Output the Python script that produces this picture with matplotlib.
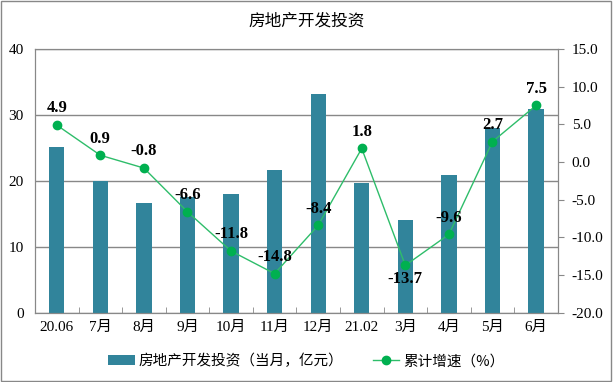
import numpy as np
import matplotlib.pyplot as plt

plt.rcParams['font.family'] = ['Liberation Serif', 'Noto Sans CJK SC']

months = ['20.06', '7月', '8月', '9月', '10月', '11月', '12月', '21.02', '3月', '4月', '5月', '6月']
invest = [25.2, 20.0, 16.7, 17.5, 18.0, 21.7, 33.2, 19.7, 14.1, 20.9, 28.0, 30.9]
growth = [4.9, 0.9, -0.8, -6.6, -11.8, -14.8, -8.4, 1.8, -13.7, -9.6, 2.7, 7.5]
# label below the point for these
below = [8]

fig = plt.figure(figsize=(6.13, 3.82), dpi=100)
ax = fig.add_axes([0.057, 0.181, 0.853, 0.691])
x = np.arange(len(months))

ax.bar(x, invest, width=0.35, color='#31849B', label='房地产开发投资（当月，亿元）', zorder=2)
ax.set_ylim(0, 40)
ax.set_yticks([0, 10, 20, 30, 40])
ax.set_xlim(-0.5, len(months) - 0.5)
ax.set_xticks(x)
ax.set_xticklabels(months, fontsize=11)
ax.set_xticks(np.arange(-0.5, len(months), 1), minor=True)
ax.tick_params(axis='x', which='major', length=0, pad=6)
ax.tick_params(axis='x', which='minor', direction='in', length=4, color='#888888')
ax.tick_params(axis='y', length=0, labelsize=11, pad=8)
ax.grid(axis='y', color='#888888', linewidth=1, zorder=0)
for s in ax.spines.values():
    s.set_color('#888888')

ax2 = ax.twinx()
ln, = ax2.plot(x, growth, color='#2EBD6A', linewidth=1, marker='o', markersize=6,
               markerfacecolor='#00B050', markeredgecolor='#00B050', label='累计增速（%）')
ax2.set_ylim(-20, 15)
ax2.set_yticks(np.arange(-20, 16, 5))
ax2.set_yticklabels(['%.1f' % v for v in np.arange(-20, 16, 5)], fontsize=11)
ax2.tick_params(axis='y', direction='out', length=4, color='#888888', pad=6)
for s in ax2.spines.values():
    s.set_color('#888888')

for i, v in enumerate(growth):
    dy = -10 if i in below else 12
    ax2.annotate('%.1f' % v, (x[i], v), xytext=(0, dy), textcoords='offset points',
                 ha='center', va='center', fontsize=12, fontweight='bold')

fig.text(0.5, 0.945, '房地产开发投资', ha='center', va='center', fontsize=12,
         family=['Noto Sans CJK SC'])

h1, l1 = ax.get_legend_handles_labels()
fig.legend(h1 + [ln], l1 + ['累计增速（%）'], loc='center', bbox_to_anchor=(0.5, 0.055),
           ncol=2, frameon=False, handlelength=1.8, handletextpad=0.3, columnspacing=2.0,
           prop={'family': ['Noto Sans CJK SC'], 'size': 10.5})

fig.patches.append(plt.Rectangle((0.002, 0.003), 0.995, 0.994, transform=fig.transFigure,
                                 fill=False, edgecolor='#888888', linewidth=1))

fig.savefig('out.png', dpi=100)
